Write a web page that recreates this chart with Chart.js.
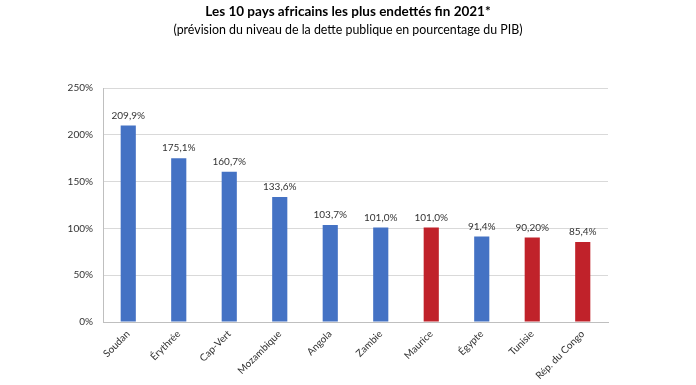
<!DOCTYPE html>
<html>
<head>
<meta charset="utf-8">
<script src="https://cdn.jsdelivr.net/npm/chart.js@4/dist/chart.umd.min.js"></script>
<style>
  html, body { margin:0; padding:0; background:#fff; }
  #wrap { width:696px; height:385px; }
</style>
</head>
<body>
<div id="wrap"><canvas id="debt"></canvas></div>
<script>
// données
const pays = ['Soudan', 'Érythrée', 'Cap-Vert', 'Mozambique', 'Angola', 'Zambie', 'Maurice', 'Égypte', 'Tunisie', 'Rép. du Congo'];
const dette = [209.9, 175.1, 160.7, 133.6, 103.7, 101.0, 101.0, 91.4, 90.2, 85.4];
const etiquettes = ['209,9%', '175,1%', '160,7%', '133,6%', '103,7%', '101,0%', '101,0%', '91,4%', '90,20%', '85,4%'];
const groupe = ['b', 'b', 'b', 'b', 'b', 'b', 'r', 'b', 'r', 'r'];
const yTicks = [0, 50, 100, 150, 200, 250];

const BLEU = '#4472C4', ROUGE = '#C0222A';
const FONT = 'Lato, "Liberation Sans", sans-serif';

// étiquettes de valeur au-dessus des barres
const valueLabels = {
  id: 'valueLabels',
  afterDatasetsDraw(chart){
    const ctx = chart.ctx;
    const meta = chart.getDatasetMeta(0);
    ctx.save();
    ctx.font = '10px ' + FONT;
    ctx.fillStyle = '#333';
    ctx.textAlign = 'center';
    ctx.textBaseline = 'bottom';
    meta.data.forEach((bar, i) => {
      ctx.fillText(etiquettes[i], bar.x, bar.y - 5);
    });
    ctx.restore();
  }
};

new Chart(document.getElementById('debt'), {
  type: 'bar',
  data: {
    labels: pays,
    datasets: [{
      data: dette,
      backgroundColor: groupe.map(g => g === 'r' ? ROUGE : BLEU),
      barPercentage: 0.6,
      categoryPercentage: 0.5
    }]
  },
  options: {
    responsive: true,
    maintainAspectRatio: false,
    animation: false,
    layout: { padding: { top: 4, left: 0, right: 0, bottom: 0 } },
    plugins: {
      legend: { display: false },
      tooltip: { enabled: false },
      title: {
        display: true,
        text: 'Les 10 pays africains les plus endettés fin 2021*',
        color: '#000',
        font: { family: FONT, size: 13.5, weight: 'bold' },
        padding: { top: 0, bottom: 2 }
      },
      subtitle: {
        display: true,
        text: '(prévision du niveau de la dette publique en pourcentage du PIB)',
        color: '#000',
        font: { family: FONT, size: 12.4 },
        padding: { top: 0, bottom: 51 }
      }
    },
    scales: {
      x: {
        grid: { display: false, drawTicks: false },
        border: { color: '#BFBFBF', width: 1 },
        ticks: {
          color: '#333',
          font: { family: FONT, size: 10 },
          maxRotation: 45, minRotation: 45,
          padding: 6
        },
        afterFit(scale){ scale.height = 63; }
      },
      y: {
        min: 0, max: 250,
        afterBuildTicks(scale){ scale.ticks = yTicks.map(v => ({ value: v })); },
        grid: { color: '#D9D9D9', drawTicks: false },
        border: { color: '#BFBFBF', width: 1 },
        ticks: {
          color: '#333',
          font: { family: FONT, size: 10 },
          padding: 10,
          callback: v => v + '%'
        },
        afterFit(scale){ scale.width = 103; }
      },
      // espace vide à droite (le titre reste centré sur toute la largeur)
      droite: {
        position: 'right',
        grid: { display: false, drawTicks: false },
        border: { display: false },
        ticks: { display: false },
        afterFit(scale){ scale.width = 88; }
      }
    }
  },
  plugins: [valueLabels]
});
</script>
</body>
</html>
